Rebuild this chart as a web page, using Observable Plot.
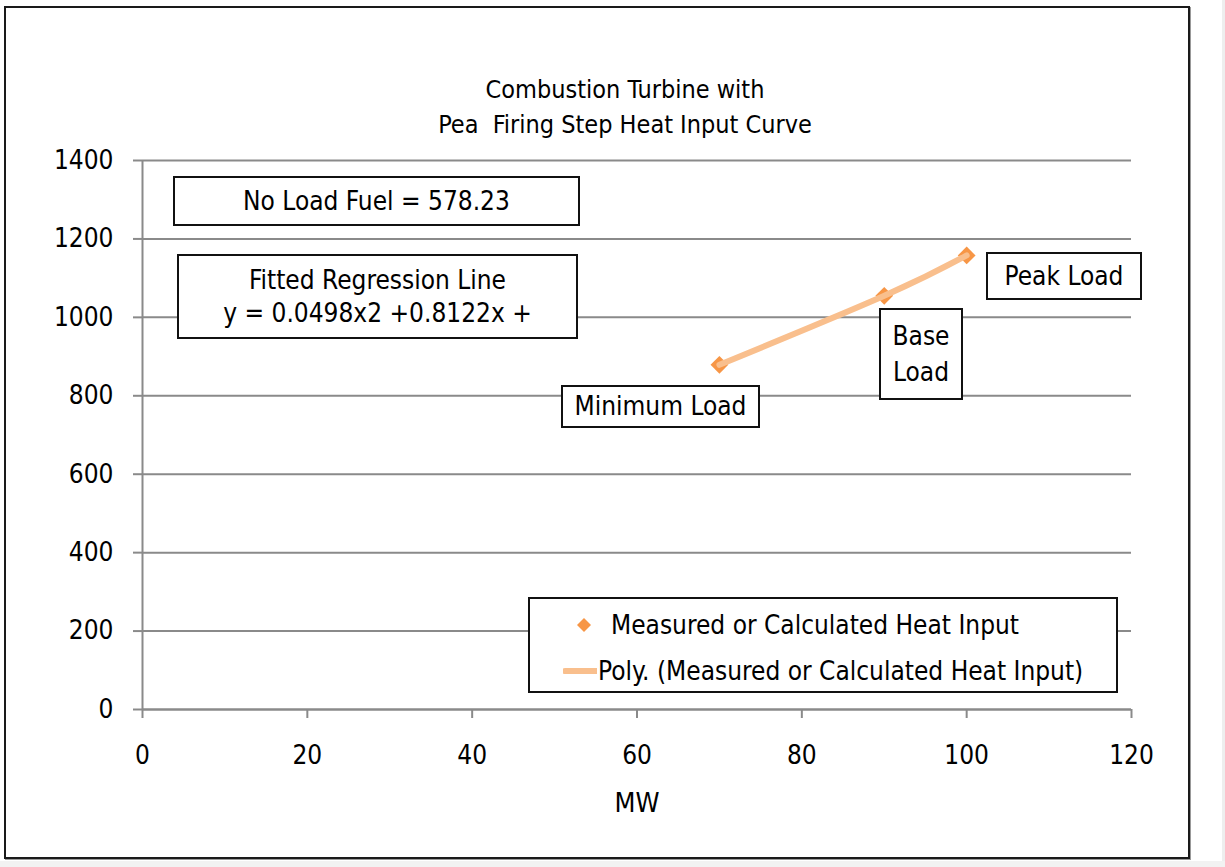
<!DOCTYPE html>
<html>
<head>
<meta charset="utf-8">
<script src="https://cdn.jsdelivr.net/npm/d3@7"></script>
<script src="https://cdn.jsdelivr.net/npm/@observablehq/plot@0.6"></script>
<style>
  html, body { margin: 0; padding: 0; background: #fff; }
  #wrap { position: relative; width: 1225px; height: 867px; overflow: hidden;
          font-family: "Liberation Sans Narrow", "Arial Narrow", "DejaVu Sans Condensed", sans-serif; }
  #frame { position: absolute; left: 4px; top: 6px; width: 1182px; height: 849px;
           border: 2px solid #1a1a1a; box-shadow: 1px 1px 0 #999; }
  #rstrip { position: absolute; left: 1222px; top: 0; width: 3px; height: 867px; background: #eee; }
  #bstrip { position: absolute; left: 0; top: 861px; width: 1225px; height: 6px; background: #f2f2f2; }
  .box { position: absolute; border: 2px solid #111; background: #fff; box-sizing: border-box;
         display: flex; flex-direction: column; align-items: center; justify-content: center;
         text-align: center; font-size: 26px; line-height: 33px; color: #000; white-space: pre; }
  #legend { position: absolute; left: 528px; top: 597px; width: 590px; height: 96px;
            border: 2px solid #111; box-sizing: border-box; background: #fff; font-size: 26px; color:#000; }
  .li { position: absolute; left: 0; display: flex; align-items: center; white-space: pre; }
  svg.plot { position: absolute; left: 0; top: 0; }
</style>
</head>
<body>
<div id="wrap">
  <div id="frame"></div>
  <div id="rstrip"></div>
  <div id="bstrip"></div>
</div>
<script>
const mw = [70, 90, 100];
const heatInput = [879, 1055, 1158];
const xTicks = [0, 20, 40, 60, 80, 100, 120];
const yTicks = [0, 200, 400, 600, 800, 1000, 1200, 1400];
const titleText = "Combustion Turbine with\nPea\u00A0 Firing Step Heat Input Curve";
const xLabel = "MW";
const seriesNames = ["Measured or Calculated Heat Input", "Poly. (Measured or Calculated Heat Input)"];
const notes = [
  {text: "No Load Fuel = 578.23", left: 173, top: 176, w: 407, h: 50, lh: 33},
  {text: "Fitted Regression Line\ny = 0.0498x2 +0.8122x +", left: 177, top: 254, w: 401, h: 85, lh: 33},
  {text: "Minimum Load", left: 561, top: 385, w: 199, h: 43, lh: 33},
  {text: "Base\nLoad", left: 879, top: 308, w: 84, h: 92, lh: 36},
  {text: "Peak Load", left: 986, top: 252, w: 156, h: 48, lh: 33}
];

const data = mw.map((x, i) => ({x, y: heatInput[i]}));
const FONT = '"Liberation Sans Narrow", "Arial Narrow", "DejaVu Sans Condensed", sans-serif';
const GRID = "#8a8a8a";
const MARKER = "#f79646";
const TREND = "#f9bf8d";

const chart = Plot.plot({
  width: 1225, height: 867,
  marginLeft: 142, marginRight: 94, marginTop: 160, marginBottom: 158,
  x: {domain: [0, 120]},
  y: {domain: [0, 1400]},
  style: {fontFamily: FONT, background: "transparent", color: "#000", overflow: "visible"},
  marks: [
    Plot.gridY(yTicks.filter(d => d > 0), {stroke: GRID, strokeOpacity: 1, strokeWidth: 2}),
    Plot.ruleX([0], {stroke: GRID, strokeWidth: 2}),
    Plot.ruleY([0], {stroke: GRID, strokeWidth: 2.5}),
    Plot.axisY(yTicks, {tickSize: 9, tickPadding: 20, fontSize: 26, stroke: GRID, strokeWidth: 2,
      tickFormat: d => String(d), label: null}),
    Plot.axisX(xTicks, {tickSize: 9, tickPadding: 27, fontSize: 26, stroke: GRID, strokeWidth: 2,
      tickFormat: d => String(d), label: null}),
    Plot.dot(data, {x: "x", y: "y", symbol: "diamond2", r: 8, fill: MARKER, stroke: "none"}),
    Plot.line(data, {x: "x", y: "y", curve: "natural", stroke: TREND, strokeWidth: 6}),
    Plot.text([xLabel], {frameAnchor: "bottom", lineAnchor: "middle", dy: 94, fontSize: 27, fill: "#000"}),
    Plot.text([titleText], {frameAnchor: "top", lineAnchor: "middle", dy: -56, dx: -12, fontSize: 25, lineHeight: 1.4, fill: "#000"})
  ]
});
const wrap = document.getElementById("wrap");
wrap.appendChild(chart);

for (const n of notes) {
  const d = document.createElement("div");
  d.className = "box";
  d.style.left = n.left + "px"; d.style.top = n.top + "px";
  d.style.width = n.w + "px"; d.style.height = n.h + "px";
  d.style.lineHeight = n.lh + "px";
  d.textContent = n.text;
  wrap.appendChild(d);
}

const lg = document.createElement("div");
lg.id = "legend";
lg.innerHTML = `
  <div class="li" style="top:8px;left:44px;height:36px">
    <svg width="20" height="20" style="margin-right:17px"><path d="M10 3 L17 10 L10 17 L3 10 Z" fill="${MARKER}"/></svg>${seriesNames[0]}</div>
  <div class="li" style="top:54px;left:33px;height:36px">
    <svg width="34" height="20" style="margin-right:1px"><line x1="2" y1="10" x2="33" y2="10" stroke="${TREND}" stroke-width="6" stroke-linecap="round"/></svg>${seriesNames[1]}</div>`;
wrap.appendChild(lg);
</script>
</body>
</html>
